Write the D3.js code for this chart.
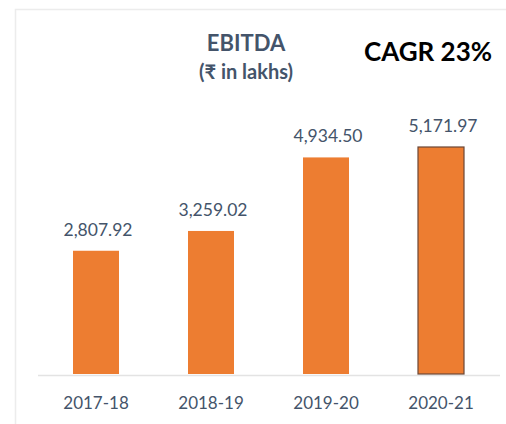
<!DOCTYPE html>
<html><head><meta charset="utf-8">
<script src="https://cdn.jsdelivr.net/npm/d3@7"></script>
<style>html,body{margin:0;padding:0;background:#fff;}</style>
</head><body>
<svg id="c" width="506" height="424"></svg>
<script>
const categories = ["2017-18","2018-19","2019-20","2020-21"];
const values = [2807.92, 3259.02, 4934.50, 5171.97];
const valueLabels = ["2,807.92","3,259.02","4,934.50","5,171.97"];
const titleLines = ["EBITDA","(₹ in lakhs)"];
const cagrText = "CAGR 23%";

const svg = d3.select("#c");
const font = "Lato, 'Noto Sans', sans-serif";
const slate = "#44546a";

// frame
svg.append("rect").attr("x",15.5).attr("y",9.5).attr("width",520).attr("height",440)
  .attr("fill","none").attr("stroke","#ececec").attr("stroke-width",1.5);

const x = d3.scaleBand().domain(categories).range([38.5, 498.5]).paddingInner(0.6).paddingOuter(0.3);
const y = d3.scaleLinear().domain([0, 5171.97]).range([374, 147]);

// axis line
svg.append("line").attr("x1",38).attr("x2",500).attr("y1",375.5).attr("y2",375.5)
  .attr("stroke","#e3e3e3").attr("stroke-width",1.5);

svg.selectAll("rect.bar").data(values).enter().append("rect").attr("class","bar")
  .attr("x",(d,i)=>x(categories[i])).attr("width",x.bandwidth())
  .attr("y",d=>y(d)).attr("height",d=>y(0)-y(d))
  .attr("fill","#ed7d31")
  .attr("stroke",(d,i)=>i===3?"#6b4636":"none").attr("stroke-width",1.2);

svg.selectAll("text.val").data(values).enter().append("text").attr("class","val")
  .attr("x",(d,i)=>x(categories[i])+x.bandwidth()/2+2).attr("y",d=>y(d)-15)
  .attr("text-anchor","middle").attr("font-family",font).attr("font-size","17.5px")
  .attr("fill",slate).text((d,i)=>valueLabels[i]);

const xAxis = d3.axisBottom(x).tickSize(0).tickPadding(0);
const gx = svg.append("g").attr("transform","translate(0,409)").call(xAxis);
gx.select(".domain").remove();
gx.selectAll("text").attr("font-family",font).attr("font-size","17px").attr("fill",slate).attr("dy",0);

svg.append("text").attr("x",246).attr("y",51).attr("text-anchor","middle")
  .attr("font-family",font).attr("font-weight","bold").attr("font-size","22px").attr("fill",slate).text(titleLines[0]);
svg.append("text").attr("x",246).attr("y",79).attr("text-anchor","middle")
  .attr("font-family",font).attr("font-weight","bold").attr("font-size","20px").attr("fill",slate).text(titleLines[1]);
svg.append("text").attr("x",428).attr("y",61).attr("text-anchor","middle")
  .attr("font-family",font).attr("font-weight","bold").attr("font-size","26px").attr("fill","#000").text(cagrText);
</script>
</body></html>
